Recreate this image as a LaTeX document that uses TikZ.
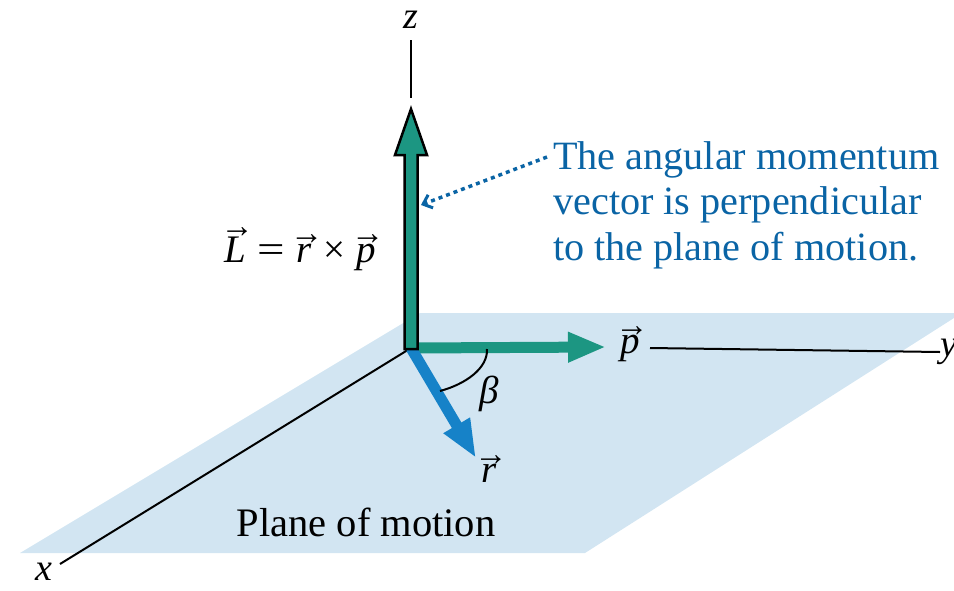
\documentclass[tikz,border=0pt]{standalone}
\usepackage{fontspec}
\setmainfont{Liberation Serif}
\usetikzlibrary{arrows.meta}
\definecolor{planeblue}{RGB}{210,229,242}
\definecolor{lgreen}{RGB}{28,150,130}
\definecolor{rblue}{RGB}{22,130,200}
\definecolor{txtblue}{RGB}{10,100,165}
\newcommand{\vit}[1]{{\setbox0\hbox{\itshape #1\/}%
  \rlap{\hbox to \wd0{\hss\kern0.1em\raisebox{\dimexpr\ht0-0.02em\relax}{\scalebox{0.85}[0.9]{→}}\hss}}\box0}}
\newcommand{\bigeq}{\scalebox{1.25}[1]{=}}
\tikzset{
  axis/.style={line width=2pt,black},
  lbl/.style={font=\fontsize{38}{40}\selectfont\itshape,inner sep=0pt},
  mathlbl/.style={font=\fontsize{39}{40}\selectfont,inner sep=0pt},
  note/.style={font=\fontsize{40.2}{45.5}\selectfont,text=txtblue,align=left,inner sep=0pt},
  fatarrow/.style={line width=11pt,-{Triangle[length=38pt,width=28pt]}},
}
\begin{document}
\begin{tikzpicture}[x=1pt,y=-1pt]
\useasboundingbox (0,0) rectangle (954,590);
% plane
\fill[planeblue] (20,553) -- (420,313) -- (954,313) -- (954,318) -- (585,553) -- cycle;
% axes
\coordinate (O) at (411,348);
\node[lbl] (zl) at (411,20) {z};
\coordinate (ztop) at (411,40);
\coordinate (zbot) at (411,98);
\draw[axis] (ztop) -- (zbot);
\node[lbl] (xl) at (44,572) {x};
\coordinate (xend) at (60,564);
\draw[axis] (O) -- (xend);
\node[lbl,anchor=west] (yl) at (940,352) {y};
\coordinate (ystart) at (650,348);
\draw[axis] (ystart) -- (yl.west);
% p arrow
\coordinate (ptip) at (606,347);
\draw[lgreen,fatarrow] (O) -- (ptip);
\node[mathlbl] (pl) at (630,344) {\vit{p}};
% r arrow
\coordinate (rtip) at (476,458);
\draw[rblue,fatarrow] (O) -- (rtip);
\node[mathlbl] (rl) at (489,469) {\vit{r}};
% beta arc
\draw[line width=2pt] (487,349) .. controls (488,368) and (466,384) .. (440,391);
\node[mathlbl] (beta) at (489,394) {\itshape β};
% L arrow (outlined)
\filldraw[fill=lgreen,draw=black,line width=2.5pt,line join=miter]
  (404.5,349) -- (404.5,155) -- (395,155) -- (411,109) -- (427,155) -- (417.5,155) -- (417.5,349) -- cycle;
\coordinate (Lmid) at (421,205);
\node[mathlbl] (Ll) at (300,249) {\vit{L}\hspace{0.3em}\bigeq\hspace{0.3em}\vit{r}\hspace{0.28em}×\hspace{0.28em}\vit{p}};
% note
\node[note,anchor=north west] (note) at (553,141) {The angular momentum\\vector is perpendicular\\to the plane of motion.};
\draw[txtblue,line width=3.5pt,dash pattern=on 4pt off 4pt,-{Straight Barb[length=8pt,width=14pt,line width=3pt]}]
  (547,157) -- (Lmid);
% plane label
\node[font=\fontsize{40.5}{42}\selectfont,inner sep=0pt] (plane) at (366,522) {Plane of motion};
\end{tikzpicture}
\end{document}
